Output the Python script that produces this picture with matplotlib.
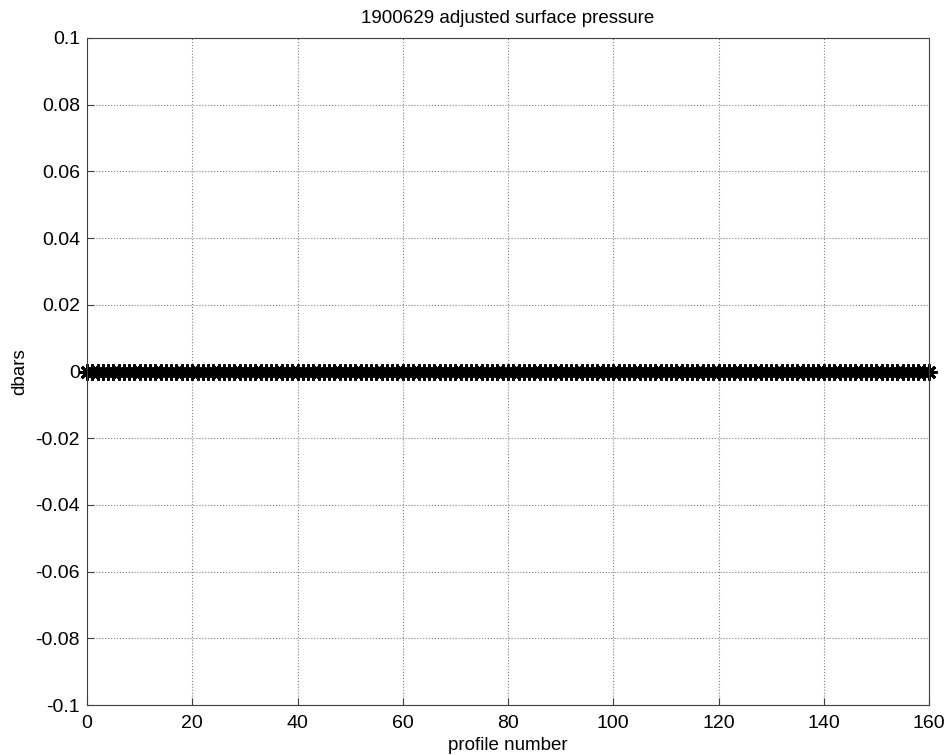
import matplotlib
matplotlib.use("Agg")
import matplotlib.pyplot as plt

plt.rcParams["font.family"] = ["Liberation Sans", "DejaVu Sans"]

# profile numbers and adjusted surface pressure (all zero)
profile = list(range(0, 161))
pressure = [0.0] * 161
xticks = [0, 20, 40, 60, 80, 100, 120, 140, 160]
yticks = [-0.1, -0.08, -0.06, -0.04, -0.02, 0, 0.02, 0.04, 0.06, 0.08, 0.1]
yticklabels = ["-0.1", "-0.08", "-0.06", "-0.04", "-0.02", "0",
               "0.02", "0.04", "0.06", "0.08", "0.1"]

fig = plt.figure(figsize=(9.47, 7.55), dpi=100)
ax = fig.add_axes([87 / 947, 50 / 755, 842 / 947, 667 / 755])

# MATLAB-style '*' marker: 8-spoke asterisk
ax.plot(profile, pressure, linestyle="none", marker=(8, 2, 0), color="black",
        markersize=11.5, markeredgewidth=2.0, clip_on=False)

ax.set_xlim(0, 160)
ax.set_ylim(-0.1, 0.1)
ax.set_xticks(xticks)
ax.set_yticks(yticks)
ax.set_yticklabels(yticklabels)
ax.tick_params(direction="in", length=5, labelsize=14, color="#404040")
ax.tick_params(axis="x", pad=7)
ax.tick_params(axis="y", pad=5)
ax.grid(True, linestyle=":", color="#808080", linewidth=0.8)
for s in ax.spines.values():
    s.set_color("#404040")

ax.set_title("1900629 adjusted surface pressure", fontsize=13.5, pad=11)
ax.set_xlabel("profile number", fontsize=13.5, labelpad=4)
ax.set_ylabel("dbars", fontsize=13.5, labelpad=5)

fig.savefig("out.png", dpi=100, facecolor="white")
